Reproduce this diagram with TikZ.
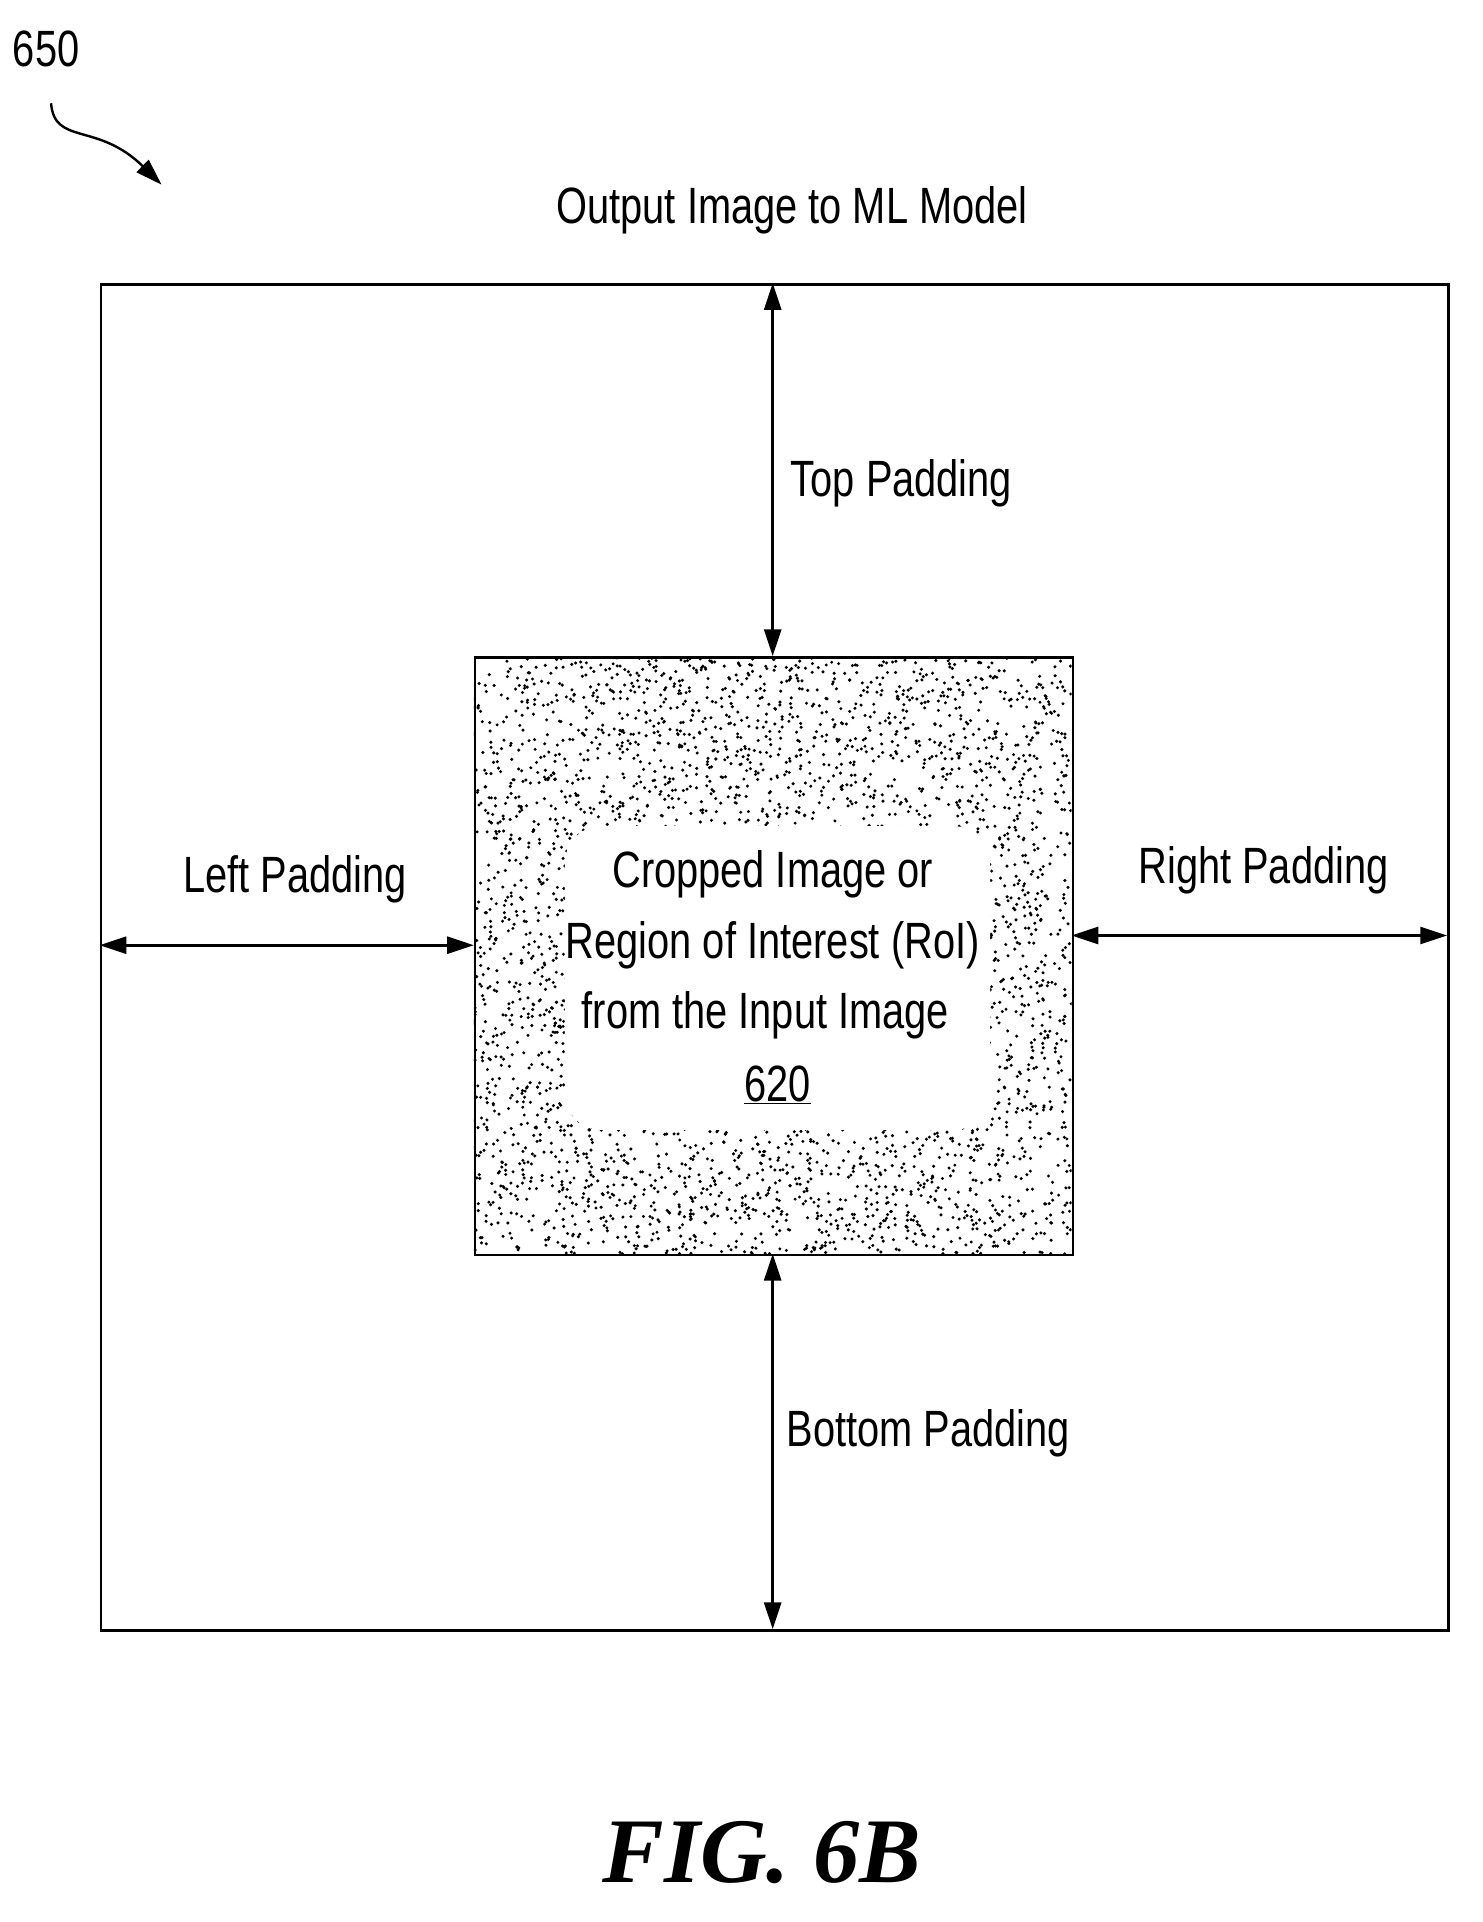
\documentclass[tikz,border=0pt]{standalone}
\usepackage{fontspec}
\setmainfont{Liberation Sans}
\newfontfamily\figfont{Liberation Serif}
\usetikzlibrary{arrows.meta}
\begin{document}
\begin{tikzpicture}[x=1pt,y=-1pt,
  lbl/.style={font=\fontsize{42}{46}\selectfont, xscale=0.78, inner sep=0},
  dim/.style={line width=2.2pt,{Triangle[length=22pt,width=14pt]}-{Triangle[length=22pt,width=14pt]}}]
\useasboundingbox (0,0) rectangle (1220,1582);
\node[lbl] (num) at (38,40) {650};
\coordinate (c1) at (42,85);
\coordinate (c2) at (133,152);
\draw[line width=2pt,-{Triangle[length=22pt,width=14pt]}] (c1) .. controls (45,120) and (80,100) .. (c2);
\node[lbl] (title) at (652,173) {Output Image to ML Model};
\node[draw,line width=2.2pt,minimum width=1109pt,minimum height=1108pt,inner sep=0,anchor=north west] (outer) at (82,233) {};
% stippled region
\begin{scope}
\clip (390,540) rectangle (882,1032);
\pgfmathsetseed{7}
\foreach \i in {1,...,4500}{
  \pgfmathsetmacro{\xx}{390+492*rnd}
  \pgfmathsetmacro{\yy}{540+492*rnd}
  \fill (\xx,\yy) circle (1.4pt);
}
\fill[white,rounded corners=30pt] (465,680) rectangle (815,930);
\end{scope}
\node[draw,line width=2.2pt,minimum width=492pt,minimum height=492pt,inner sep=0,anchor=north west] (inner) at (390,540) {};
\node[lbl] (t1) at (636,720) {Cropped Image or};
\node[lbl] (t2) at (636,778) {Region of Interest (RoI)};
\node[lbl] (t3) at (630,836) {from the Input Image};
\node[lbl] (t4) at (640,893) {\underline{620}};
\coordinate (topO) at (636,233); \coordinate (topI) at (636,540);
\coordinate (botI) at (636,1032); \coordinate (botO) at (636,1341);
\coordinate (lO) at (82,778); \coordinate (lI) at (390,778);
\coordinate (rI) at (882,770); \coordinate (rO) at (1191,770);
\draw[dim] (topO) -- (topI);
\draw[dim] (botI) -- (botO);
\draw[dim] (lO) -- (lI);
\draw[dim] (rI) -- (rO);
\node[lbl] (tp) at (742,398) {Top Padding};
\node[lbl] (lp) at (243,724) {Left Padding};
\node[lbl] (rp) at (1040,716) {Right Padding};
\node[lbl] (bp) at (764,1180) {Bottom Padding};
\node[font=\figfont\bfseries\itshape\fontsize{76}{80}\selectfont,inner sep=0] (fig) at (627,1525) {FIG. 6B};
\end{tikzpicture}
\end{document}
